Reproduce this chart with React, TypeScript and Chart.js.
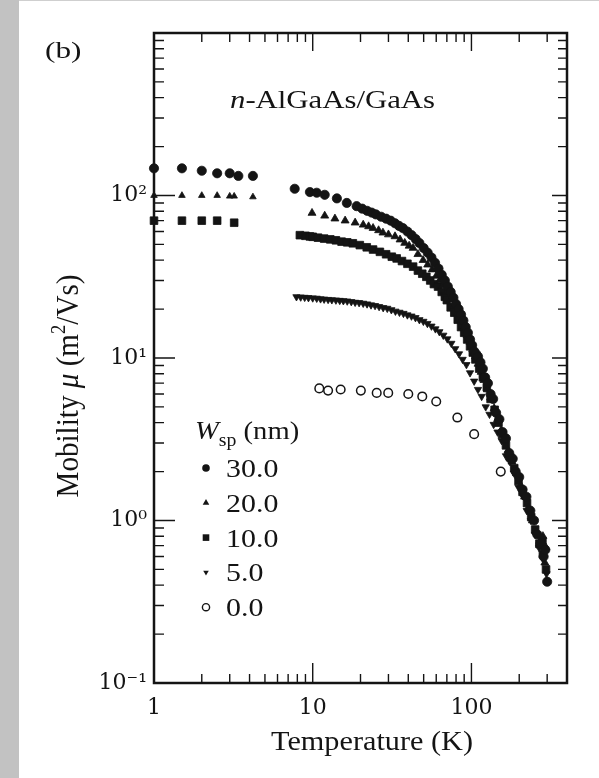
import React, { useEffect, useRef } from 'react';
import { Chart, registerables } from 'chart.js';
Chart.register(...registerables);

const W = 599;
const H = 778;
const INK = '#141414';
const SERIF = '"Liberation Serif", "Times New Roman", serif';
const TICKFONT = '"DejaVu Serif", serif';

// ---- data (temperature K, mobility m^2/Vs) ----
const seriesNames = ['30.0', '20.0', '10.0', '5.0', '0.0'];

const t30 = [1, 1.5, 2.0, 2.5, 3.0, 3.4, 4.2, 7.7, 9.6, 10.6, 11.9, 14.2, 16.4, 18.9, 20.5, 22, 23.5, 25, 27, 29, 31, 33, 35, 37, 39.5, 42, 44.5, 47, 50, 53, 56, 59, 62, 65, 68, 71, 74, 77, 80, 83, 86, 89, 92, 95, 98, 101, 104, 107, 110, 114, 118, 122, 127, 132, 137, 143, 150, 157, 165, 173, 182, 190, 200, 210, 222, 235, 248, 260, 272, 285, 292, 300];
const mu30 = [147, 147, 142, 137, 137, 132, 132, 110, 105, 104, 101, 96, 90, 86, 83, 80.5, 78.5, 76.5, 74, 72, 70, 67.5, 65, 63, 60, 57, 54, 51, 47.5, 44.5, 41.5, 38.5, 35.5, 32.5, 30, 27.5, 25.5, 23.5, 21.5, 20, 18.5, 17, 15.5, 14.3, 13, 12, 11, 10.6, 10.2, 9.4, 8.6, 7.6, 7.0, 6.0, 5.6, 4.6, 4.2, 3.5, 3.2, 2.6, 2.4, 2.0, 1.85, 1.55, 1.4, 1.15, 1.0, 0.82, 0.72, 0.6, 0.66, 0.42];

const t20 = [1, 1.5, 2.0, 2.5, 3.0, 3.2, 4.2, 9.9, 11.9, 13.8, 16, 18.5, 20.8, 22.5, 24, 26, 27.7, 30, 33, 35.5, 38, 40.5, 42.9, 46, 49.6, 53, 56.5, 60, 63, 66, 70, 74, 78, 82, 86, 90, 94, 98, 102, 106, 110, 115, 120, 126, 132, 139, 146, 154, 162, 170, 180, 192, 204, 216, 228, 242, 256, 270, 282, 290, 295];
const mu20 = [100, 100, 100, 100, 99, 99, 98, 78, 75, 72, 70, 68, 66, 64.5, 63, 61, 59, 57.5, 56, 53.5, 51, 49, 47.5, 43.5, 40, 37.5, 35, 32, 30, 28, 25.5, 23, 21, 19, 17, 15.3, 13.8, 12.5, 11.3, 10.2, 9.2, 8.2, 7.3, 6.4, 5.7, 4.9, 4.2, 3.6, 3.1, 2.7, 2.3, 1.95, 1.65, 1.4, 1.2, 1.0, 0.85, 0.7, 0.8, 0.55, 0.68];

const t10 = [1, 1.5, 2.0, 2.5, 3.2, 8.3, 9, 9.6, 10, 10.8, 11.8, 12.9, 14, 15.2, 16.5, 17.9, 19.8, 21.9, 24, 26.5, 29, 31.5, 33.8, 36.5, 39.5, 42.9, 46, 49, 52, 55, 58, 61.6, 65, 68, 70, 74, 78, 82, 86, 90, 94, 98, 102, 106, 112, 118, 125, 132, 140, 148, 156, 165, 175, 186, 198, 210, 224, 238, 252, 268, 280, 282, 295];
const mu10 = [70, 70, 70, 70, 68, 57, 56.5, 56, 55.7, 55, 54.3, 53.7, 53, 52, 51.5, 50.8, 49.5, 48, 46.5, 45, 43.5, 42, 41, 39.5, 38, 36.5, 34.5, 33, 31.6, 30, 28.5, 27.5, 25.5, 23.8, 22.7, 20.5, 19, 17.2, 15.5, 14.3, 13, 11.8, 10.8, 9.8, 8.6, 7.6, 6.6, 5.6, 4.8, 4.0, 3.4, 2.9, 2.45, 2.1, 1.75, 1.5, 1.28, 1.05, 0.88, 0.72, 0.75, 0.62, 0.5];

const t5 = [7.9, 8.4, 8.9, 9.4, 10, 10.6, 11.2, 11.8, 12.5, 13.2, 14, 14.8, 15.6, 16.5, 17.5, 18.5, 19.6, 20.8, 22, 23.3, 24.7, 26.2, 27.8, 29.5, 31.3, 33.2, 35.2, 37.3, 39.5, 41.9, 44.4, 47, 49.8, 52.8, 56, 59.3, 62.8, 66.5, 70.5, 74.7, 79, 83.5, 88, 93, 98, 104, 110, 116, 123, 130, 138, 146, 155, 165, 175, 186, 198, 210, 223, 237, 252, 267, 282, 297];
const mu5 = [23.8, 23.7, 23.6, 23.5, 23.4, 23.3, 23.1, 23.0, 22.9, 22.8, 22.7, 22.6, 22.5, 22.4, 22.2, 22.0, 21.9, 21.7, 21.5, 21.2, 21.0, 20.7, 20.4, 20.2, 19.8, 19.4, 19.1, 18.8, 18.4, 18.1, 17.7, 17.2, 16.8, 16.3, 15.7, 15.1, 14.5, 13.8, 13.1, 12.3, 11.4, 10.6, 9.8, 9.1, 8.1, 7.2, 6.4, 5.8, 5.0, 4.5, 3.9, 3.5, 3.1, 2.5, 2.3, 1.95, 1.6, 1.42, 1.15, 1.0, 0.82, 0.68, 0.58, 0.47];

const t0 = [11.0, 12.5, 15, 20.1, 25.3, 29.9, 40, 49, 60, 81.5, 104, 153];
const mu0 = [6.5, 6.3, 6.4, 6.3, 6.1, 6.1, 6.0, 5.8, 5.4, 4.3, 3.4, 2.0];

const xTickValues = [1, 10, 100];
const xTickLabels = ['1', '10', '100'];
const yTickValues = [0.1, 1, 10, 100];
const yTickLabels = ['10\u207B\u00B9', '10\u2070', '10\u00B9', '10\u00B2'];
const xMin = 1;
const xMax = 400;
const yMin = 0.1;
const yMax = 1000;

const pts = (t: number[], m: number[]) => t.map((v, i) => ({ x: v, y: m[i] }));

type Part = { text: string; font: string; dy?: number };

function drawParts(ctx: CanvasRenderingContext2D, parts: Part[], x: number, y: number, sx = 1, sy = 1, center = false) {
  ctx.save();
  ctx.translate(x, y);
  ctx.scale(sx, sy);
  ctx.textBaseline = 'alphabetic';
  ctx.textAlign = 'left';
  let total = 0;
  for (const p of parts) { ctx.font = p.font; total += ctx.measureText(p.text).width; }
  let cx = center ? -total / 2 : 0;
  for (const p of parts) {
    ctx.font = p.font;
    ctx.fillText(p.text, cx, p.dy || 0);
    cx += ctx.measureText(p.text).width;
  }
  ctx.restore();
}

function drawMarker(ctx: CanvasRenderingContext2D, kind: number, x: number, y: number) {
  ctx.save();
  ctx.fillStyle = INK;
  ctx.strokeStyle = INK;
  ctx.beginPath();
  if (kind === 0) {
    ctx.arc(x, y, 3.8, 0, Math.PI * 2);
    ctx.fill();
  } else if (kind === 1) {
    const r = 3.8;
    ctx.moveTo(x, y - r);
    ctx.lineTo(x + r * 0.866, y + r * 0.5);
    ctx.lineTo(x - r * 0.866, y + r * 0.5);
    ctx.closePath();
    ctx.fill();
  } else if (kind === 2) {
    ctx.rect(x - 3.3, y - 3.3, 6.6, 6.6);
    ctx.fill();
  } else if (kind === 3) {
    const r = 3.2;
    ctx.moveTo(x, y + r);
    ctx.lineTo(x + r * 0.866, y - r * 0.5);
    ctx.lineTo(x - r * 0.866, y - r * 0.5);
    ctx.closePath();
    ctx.fill();
  } else {
    ctx.lineWidth = 1.4;
    ctx.arc(x, y, 3.6, 0, Math.PI * 2);
    ctx.stroke();
  }
  ctx.restore();
}

const decorPlugin = {
  id: 'decor',
  afterDraw(chart: any) {
    const ctx: CanvasRenderingContext2D = chart.ctx;
    const { left, right, top, bottom } = chart.chartArea;
    const xs = chart.scales.x;
    const ys = chart.scales.y;
    ctx.save();
    ctx.strokeStyle = INK;
    ctx.fillStyle = INK;
    ctx.lineWidth = 2.5;
    ctx.strokeRect(left, top, right - left, bottom - top);
    ctx.lineWidth = 1.4;
    for (let d = 1; d <= 100; d *= 10) {
      for (let m = 1; m <= 9; m++) {
        const v = m * d;
        if (v <= xMin || v >= xMax) continue;
        const px = xs.getPixelForValue(v);
        const major = m === 1;
        ctx.beginPath();
        ctx.moveTo(px, bottom);
        ctx.lineTo(px, bottom - (major ? 20 : 9));
        ctx.moveTo(px, top);
        ctx.lineTo(px, top + (major ? 18 : 9));
        ctx.stroke();
      }
    }
    for (let d = 0.1; d <= 100.5; d *= 10) {
      for (let m = 1; m <= 9; m++) {
        const v = m * d;
        if (v <= yMin * 1.0001 || v >= yMax * 0.9999) continue;
        const py = ys.getPixelForValue(v);
        const major = m === 1;
        ctx.beginPath();
        ctx.moveTo(left, py);
        ctx.lineTo(left + (major ? 21 : 10), py);
        ctx.moveTo(right, py);
        ctx.lineTo(right - (major ? 15 : 9), py);
        ctx.stroke();
      }
    }
    ctx.fillStyle = INK;
    drawParts(ctx, [{ text: '(b)', font: `24px ${SERIF}` }], 45, 58, 1.3, 1);
    drawParts(ctx, [
      { text: 'n', font: `italic 25px ${SERIF}` },
      { text: '-AlGaAs/GaAs', font: `25px ${SERIF}` },
    ], 230, 108, 1.23, 1);
    drawParts(ctx, [{ text: 'Temperature (K)', font: `28px ${SERIF}` }], 372, 750, 1.08, 1, true);
    ctx.save();
    ctx.translate(78, 386);
    ctx.rotate(-Math.PI / 2);
    drawParts(ctx, [
      { text: 'Mobility ', font: `28px ${SERIF}` },
      { text: '\u03BC', font: `italic 28px ${SERIF}` },
      { text: ' (m', font: `28px ${SERIF}` },
      { text: '2', font: `18px ${SERIF}`, dy: -11 },
      { text: '/Vs)', font: `28px ${SERIF}` },
    ], 0, 0, 1.04, 1.15, true);
    ctx.restore();
    drawParts(ctx, [
      { text: 'W', font: `italic 26px ${SERIF}` },
      { text: 'sp', font: `18px ${SERIF}`, dy: 7 },
      { text: ' (nm)', font: `26px ${SERIF}` },
    ], 195, 439, 1.1, 1);
    seriesNames.forEach((name, i) => {
      const cy = 468 + i * 34.8;
      drawMarker(ctx, i, 206, cy);
      drawParts(ctx, [{ text: name, font: `26px ${SERIF}` }], 226, cy + 9, 1.15, 1);
    });
    ctx.restore();
  },
};

function ChartView() {
  const ref = useRef<HTMLCanvasElement | null>(null);
  useEffect(() => {
    if (!ref.current) return;
    const filled = (label: string, data: any[], style: any, radius: any, rotation = 0) => ({
      label,
      data,
      showLine: false,
      pointStyle: style,
      pointRadius: radius,
      pointRotation: rotation,
      backgroundColor: INK,
      borderColor: INK,
      borderWidth: 0.8,
      clip: false as any,
    });
    const lowSmall = (big: number, small: number) => (c: any) => (c.raw && c.raw.x < 5 ? small : big);
    const chart = new Chart(ref.current, {
      type: 'scatter',
      data: {
        datasets: [
          filled(seriesNames[0], pts(t30, mu30), 'circle', 4.6),
          filled(seriesNames[1], pts(t20, mu20), 'triangle', lowSmall(4.6, 3.8)),
          filled(seriesNames[2], pts(t10, mu10), 'rect', 5.4),
          filled(seriesNames[3], pts(t5, mu5), 'triangle', 4.2, 180),
          {
            label: seriesNames[4],
            data: pts(t0, mu0),
            showLine: false,
            pointStyle: 'circle',
            pointRadius: 4.3,
            backgroundColor: '#ffffff',
            borderColor: INK,
            borderWidth: 1.5,
            clip: false as any,
          },
        ],
      },
      options: {
        responsive: false,
        animation: false,
        devicePixelRatio: 1,
        layout: { padding: { left: 0, right: 32, top: 33, bottom: 0 } },
        plugins: {
          legend: { display: false },
          tooltip: { enabled: false },
          title: { display: false },
        },
        scales: {
          x: {
            type: 'logarithmic',
            min: xMin,
            max: xMax,
            position: 'bottom',
            afterBuildTicks: (s: any) => { s.ticks = xTickValues.map((v) => ({ value: v })); },
            afterFit: (s: any) => { s.height = 95; },
            ticks: {
              autoSkip: false,
              maxRotation: 0,
              padding: 12,
              color: INK,
              font: { family: TICKFONT, size: 22 },
              callback: (v: any) => {
                const i = xTickValues.findIndex((t) => Math.abs(t - Number(v)) < 1e-6 * t);
                return i >= 0 ? xTickLabels[i] : '';
              },
            },
            grid: { display: false, drawTicks: false },
            border: { display: false },
          },
          y: {
            type: 'logarithmic',
            min: yMin,
            max: yMax,
            position: 'left',
            afterBuildTicks: (s: any) => { s.ticks = yTickValues.map((v) => ({ value: v })); },
            afterFit: (s: any) => { s.width = 154; },
            ticks: {
              autoSkip: false,
              padding: 7,
              color: INK,
              font: { family: TICKFONT, size: 22 },
              callback: (v: any) => {
                const i = yTickValues.findIndex((t) => Math.abs(t - Number(v)) < 1e-6 * t);
                return i >= 0 ? yTickLabels[i] : '';
              },
            },
            grid: { display: false, drawTicks: false },
            border: { display: false },
          },
        },
      } as any,
      plugins: [decorPlugin],
    });
    return () => chart.destroy();
  }, []);
  return <canvas ref={ref} width={W} height={H} style={{ position: 'absolute', left: 0, top: 0, width: W, height: H }} />;
}

export default function App() {
  return (
    <div style={{ position: 'fixed', left: 0, top: 0, width: W, height: H, background: '#ffffff', overflow: 'hidden' }}>
      <div style={{ position: 'absolute', left: 0, top: 0, width: 19, height: H, background: '#c2c2c2' }} />
      <div style={{ position: 'absolute', left: 19, top: 0, width: W - 19, height: 1, background: '#cfcfcf' }} />
      <ChartView />
    </div>
  );
}
